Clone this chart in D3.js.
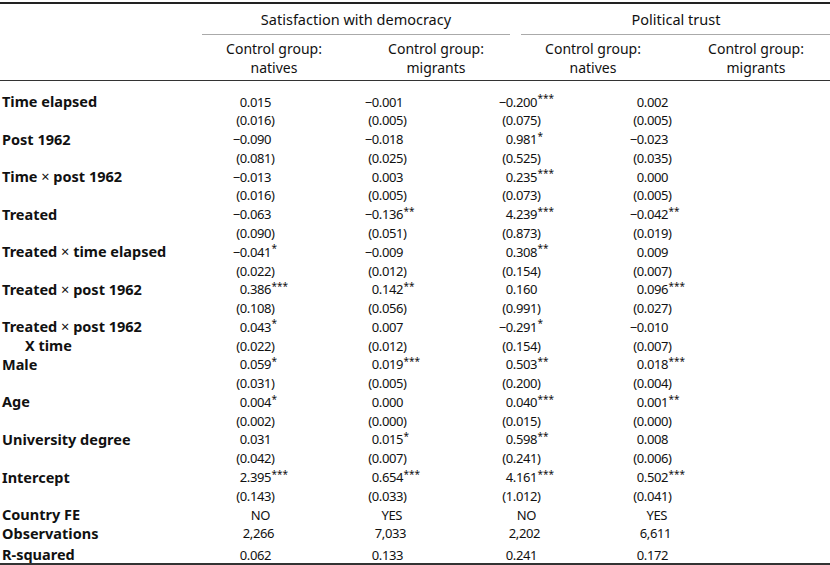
<!DOCTYPE html>
<html>
<head>
<meta charset="utf-8">
<script src="https://cdn.jsdelivr.net/npm/d3@7"></script>
<style>
  body { margin: 0; background: #fff; }
  svg { display: block; font-family: "Noto Sans", sans-serif; fill: #111; }
  .num { font-size: 13px; letter-spacing: -0.4px; }
</style>
</head>
<body>
<svg id="tbl" width="830" height="565"></svg>
<script>
// Table data
const groups = ["Satisfaction with democracy", "Political trust"];
const columns = ["satNat", "satMig", "trustNat", "trustMig"];
const colHeads = ["natives", "migrants", "natives", "migrants"];
const rowLabels = ["Time elapsed", "Post 1962", "Time × post 1962", "Treated",
  "Treated × time elapsed", "Treated × post 1962", "Treated × post 1962",
  "Male", "Age", "University degree", "Intercept"];

const satNatCoef = [0.015, -0.090, -0.013, -0.063, -0.041, 0.386, 0.043, 0.059, 0.004, 0.031, 2.395];
const satNatStars = [0, 0, 0, 0, 1, 3, 1, 1, 1, 0, 3];
const satNatSe = [0.016, 0.081, 0.016, 0.090, 0.022, 0.108, 0.022, 0.031, 0.002, 0.042, 0.143];

const satMigCoef = [-0.001, -0.018, 0.003, -0.136, -0.009, 0.142, 0.007, 0.019, 0.000, 0.015, 0.654];
const satMigStars = [0, 0, 0, 2, 0, 2, 0, 3, 0, 1, 3];
const satMigSe = [0.005, 0.025, 0.005, 0.051, 0.012, 0.056, 0.012, 0.005, 0.000, 0.007, 0.033];

const trustNatCoef = [-0.200, 0.981, 0.235, 4.239, 0.308, 0.160, -0.291, 0.503, 0.040, 0.598, 4.161];
const trustNatStars = [3, 1, 3, 3, 2, 0, 1, 2, 3, 2, 3];
const trustNatSe = [0.075, 0.525, 0.073, 0.873, 0.154, 0.991, 0.154, 0.200, 0.015, 0.241, 1.012];

const trustMigCoef = [0.002, -0.023, 0.000, -0.042, 0.009, 0.096, -0.010, 0.018, 0.001, 0.008, 0.502];
const trustMigStars = [0, 0, 0, 2, 0, 3, 0, 3, 2, 0, 3];
const trustMigSe = [0.005, 0.035, 0.005, 0.019, 0.007, 0.027, 0.007, 0.004, 0.000, 0.006, 0.041];

const countryFE = ["NO", "YES", "NO", "YES"];
const observations = [2266, 7033, 2202, 6611];
const rSquared = [0.062, 0.133, 0.241, 0.172];

// Layout
const W = 830;
const svg = d3.select("#tbl");
const fmt = d3.format(".3f");
const fmtN = d3.format(",");

// line index -> vertical centre
const y = d3.scaleLinear().domain([0, 22]).range([102, 515]);
// column -> right edge of the number (decimal alignment)
const xNum = d3.scaleOrdinal().domain(columns).range([271, 403, 537, 668]);
const xHead = d3.scaleOrdinal().domain(columns).range([274, 436, 593, 756]);
const xGroup = d3.scaleOrdinal().domain(groups).range([356, 676]);
const groupSpan = { "Satisfaction with democracy": [202, 510], "Political trust": [521, 830] };

const colData = {
  satNat: { coef: satNatCoef, stars: satNatStars, se: satNatSe },
  satMig: { coef: satMigCoef, stars: satMigStars, se: satMigSe },
  trustNat: { coef: trustNatCoef, stars: trustNatStars, se: trustNatSe },
  trustMig: { coef: trustMigCoef, stars: trustMigStars, se: trustMigSe }
};

// Rules
function rule(x1, x2, yy, w, c) {
  svg.append("line").attr("x1", x1).attr("x2", x2).attr("y1", yy).attr("y2", yy)
    .attr("stroke", c).attr("stroke-width", w);
}
rule(0, W, 3, 2, "#222");
groups.forEach(g => rule(groupSpan[g][0], groupSpan[g][1], 34.5, 1, "#aaa"));
rule(0, W, 80.5, 1.2, "#333");
rule(0, W, 564, 2, "#333");

// Headers
svg.selectAll(".grp").data(groups).join("text")
  .attr("class", "grp")
  .attr("x", d => xGroup(d)).attr("y", 19.5).attr("dy", "0.35em")
  .attr("text-anchor", "middle").style("font-size", "14.5px")
  .text(d => d);

columns.forEach((c, i) => {
  const t = svg.append("text").attr("text-anchor", "middle").style("font-size", "14px");
  t.append("tspan").attr("x", xHead(c)).attr("y", 49).attr("dy", "0.35em").text("Control group:");
  t.append("tspan").attr("x", xHead(c)).attr("y", 68).attr("dy", "0.35em").text(colHeads[i]);
});

// Row labels
function label(txt, line, x) {
  const t = svg.append("text").attr("x", x).attr("y", y(line)).attr("dy", "0.35em")
    .style("font-size", "14.5px").style("font-weight", "bold");
  txt.split("×").forEach((part, k) => {
    if (k > 0) t.append("tspan").style("font-weight", "normal").text("× ");
    t.append("tspan").text(part.trimStart() + (k === 0 && part.endsWith(" ") ? " " : ""));
  });
}
rowLabels.forEach((l, i) => label(l, i * 2, 2));
label("X time", 13, 25);
label("Country FE", 22, 2);
label("Observations", 23, 2);
label("R-squared", 24.15, 2);

// Cells
function cell(c, line, main, suffix, sup) {
  svg.append("text").attr("class", "num").attr("x", xNum(c)).attr("y", y(line)).attr("dy", "0.35em")
    .attr("text-anchor", "end").text(main);
  if (suffix) {
    svg.append("text").attr("x", xNum(c) + (sup ? 0.5 : 0)).attr("y", y(line))
      .attr("class", sup ? null : "num")
      .attr("dy", sup ? "0.02em" : "0.35em")
      .style("font-size", sup ? "10px" : null).text(suffix);
  }
}

columns.forEach((c, ci) => {
  const d = colData[c];
  d.coef.forEach((v, i) => {
    cell(c, i * 2, fmt(v), "*".repeat(d.stars[i]), true);
    cell(c, i * 2 + 1, "(" + fmt(d.se[i]), ")", false);
  });
  svg.append("text").attr("class", "num").attr("x", xNum(c) - 1).attr("y", y(22)).attr("dy", "0.35em")
    .attr("text-anchor", "end").text(countryFE[ci]);
  svg.append("text").attr("class", "num").attr("x", xNum(c) + 3).attr("y", y(23)).attr("dy", "0.35em")
    .attr("text-anchor", "end").text(fmtN(observations[ci]));
  cell(c, 24.15, fmt(rSquared[ci]), "", false);
});
</script>
</body>
</html>
